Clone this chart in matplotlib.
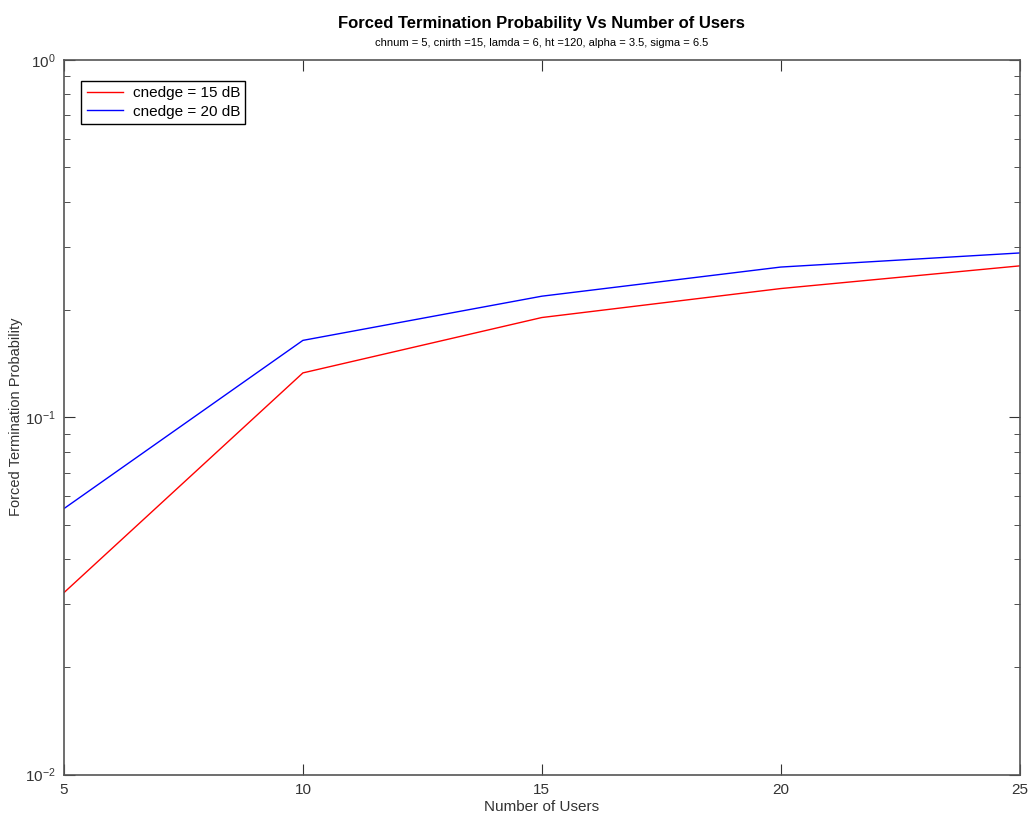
import matplotlib
matplotlib.use('Agg')
import matplotlib.pyplot as plt
from matplotlib.ticker import LogLocator, NullFormatter

plt.rcParams['font.family'] = ['Liberation Sans', 'DejaVu Sans']

users = [5, 10, 15, 20, 25]
ftp_15db = [0.0323, 0.133, 0.190, 0.229, 0.265]
ftp_20db = [0.0555, 0.164, 0.218, 0.263, 0.288]

fig = plt.figure(figsize=(10.32, 8.18), dpi=100)
ax = fig.add_axes([0.062, 0.053, 0.926, 0.874])

ax.plot(users, ftp_15db, color='red', lw=1.0, label='cnedge = 15 dB')
ax.plot(users, ftp_20db, color='blue', lw=1.0, label='cnedge = 20 dB')

ax.set_yscale('log')
ax.set_xlim(5, 25)
ax.set_ylim(1e-2, 1e0)
ax.set_xticks(users)
ax.yaxis.set_minor_locator(LogLocator(base=10, subs=range(2, 10)))
ax.yaxis.set_minor_formatter(NullFormatter())

# MATLAB-style box: ticks inward on all four sides
ax.tick_params(which='both', direction='in', top=True, right=True,
               color='#333333', labelsize=11, pad=6)
ax.tick_params(which='major', length=8)
ax.tick_params(which='minor', length=4)
for s in ax.spines.values():
    s.set_color('#555555')
    s.set_linewidth(1.2)

ax.set_xlabel('Number of Users', fontsize=11, color='#333333', labelpad=2)
ax.set_ylabel('Forced Termination Probability', fontsize=10.5, color='#333333')
ax.yaxis.set_label_coords(-0.043, 0.5)
for lbl in ax.get_xticklabels() + ax.get_yticklabels():
    lbl.set_color('#333333')

fig.text(0.525, 0.971, 'Forced Termination Probability Vs Number of Users',
         ha='center', va='center', fontsize=12, fontweight='bold')
fig.text(0.525, 0.948, 'chnum = 5, cnirth =15, lamda = 6, ht =120, alpha = 3.5, sigma = 6.5',
         ha='center', va='center', fontsize=8)

leg = ax.legend(loc='upper left', bbox_to_anchor=(0.015, 0.975), fontsize=11,
                fancybox=False, framealpha=1, edgecolor='black',
                handlelength=2.4, handletextpad=0.6, borderpad=0.35,
                labelspacing=0.3, borderaxespad=0.2)
leg.get_frame().set_linewidth(1.0)

fig.savefig('out.png', dpi=100)
